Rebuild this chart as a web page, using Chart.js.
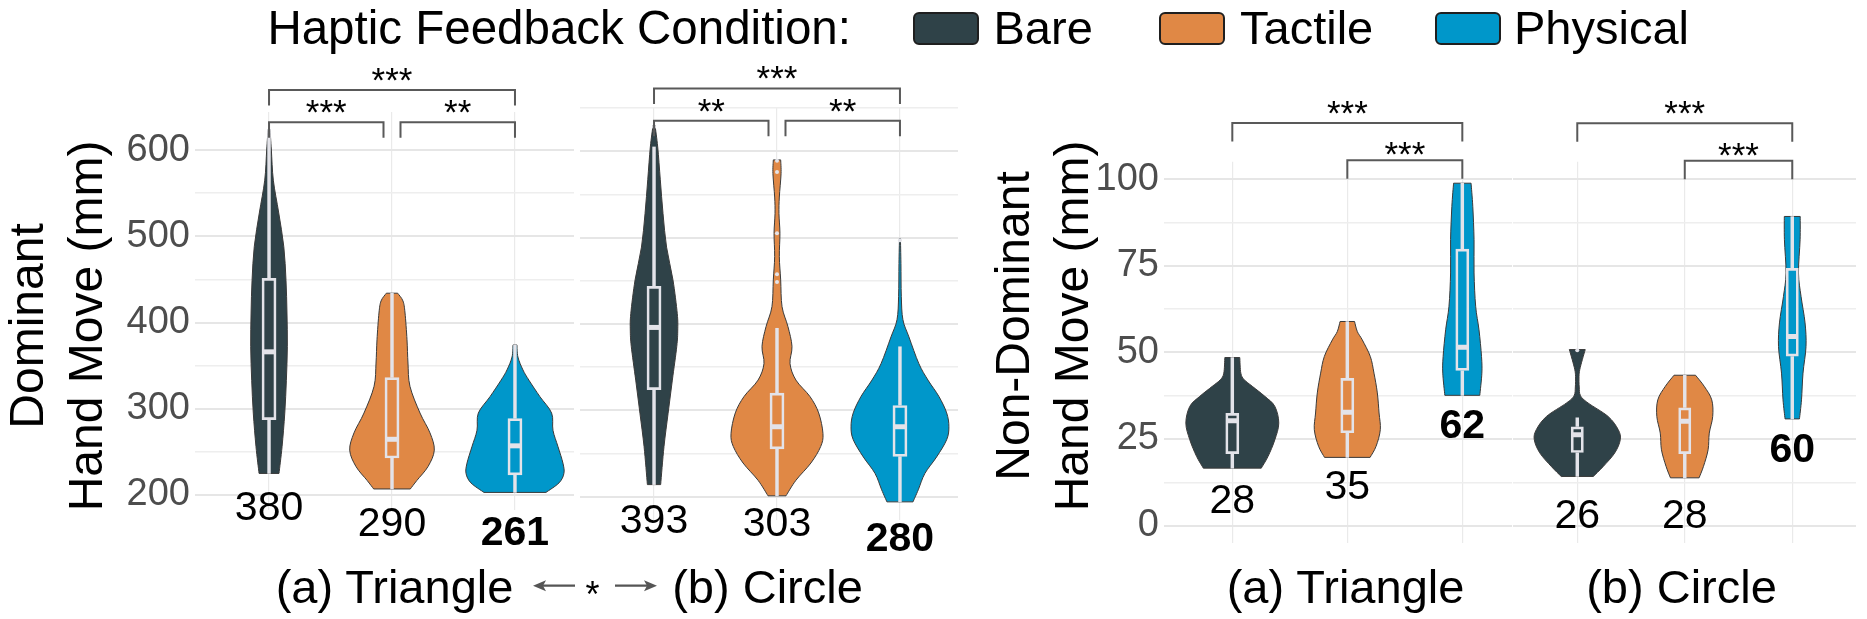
<!DOCTYPE html>
<html>
<head>
<meta charset="utf-8">
<script src="https://cdn.jsdelivr.net/npm/chart.js@4.4.0/dist/chart.umd.min.js"></script>
<style>
  html, body { margin: 0; padding: 0; background: #fff; }
  #page { position: relative; width: 1867px; height: 619px; overflow: hidden;
          font-family: 'Liberation Sans', Arial, sans-serif; color: #000; }
  #page canvas { position: absolute; left: 0; top: 0; }
  .txt { position: absolute; white-space: nowrap; line-height: 1; }
  .key { position: absolute; width: 66px; height: 33px; box-sizing: border-box;
         border: 2px solid #1f1f1f; border-radius: 6px; }
  .ytitle { position: absolute; width: 520px; height: 118px; font-size: 48px; line-height: 59px;
            text-align: center; white-space: nowrap; transform: translate(-50%, -50%) rotate(-90deg); }
</style>
</head>
<body>
<div id="page">
  <canvas id="domTri" width="1867" height="619"></canvas>
  <canvas id="domCirc" width="1867" height="619"></canvas>
  <canvas id="ndTri" width="1867" height="619"></canvas>
  <canvas id="ndCirc" width="1867" height="619"></canvas>
</div>
<script>
// ---- data -------------------------------------------------------------
const categories = ['Bare', 'Tactile', 'Physical'];
const shapes = ['(a) Triangle', '(b) Circle'];

const domGridTicks = [200, 250, 300, 350, 400, 450, 500, 550, 600, 650];
const domTickLabels = [200, 300, 400, 500, 600];
const ndGridTicks = [0, 12.5, 25, 37.5, 50, 62.5, 75, 87.5, 100];
const ndTickLabels = [0, 25, 50, 75, 100];

// violin outlines: [value, half width in category units]
const domTriViolins = [
  [[225, .081], [256, .106], [295, .128], [333, .141], [372, .149], [411, .146], [449, .138], [488, .120], [527, .079], [565, .035], [600, .019], [624, .008]],
  [[207, .149], [217, .203], [233, .293], [252, .344], [272, .309], [295, .228], [326, .146], [353, .130], [380, .122], [411, .106], [425, .089], [434, .046]],
  [[203, .252], [214, .358], [225, .398], [237, .390], [256, .350], [275, .309], [295, .298], [314, .203], [333, .114], [345, .065], [360, .024], [374, .016]]
];
const domTriQ1 = [287, 242.5, 223];
const domTriMedian = [366, 264.6, 257];
const domTriQ3 = [451.6, 336.4, 289];
const domTriLow = [225, 207, 203];
const domTriHigh = [624, 434, 374];
const domTriOutliers = [[], [], []];
const domTriMeans = [380, 290, 261];
const domTriLabelAt = [188.4, 169.9, 159.4];
const domTriTests = [[0, 2, '***', 669.6], [0, 1, '***', 632.1], [1, 2, '**', 632.1]];

const domCircViolins = [
  [[214, .054], [258, .081], [296, .114], [335, .149], [374, .185], [393, .193], [412, .189], [451, .154], [489, .102], [528, .073], [567, .051], [605, .030], [630, .008]],
  [[201, .073], [219, .154], [239, .276], [258, .355], [273, .374], [297, .339], [316, .268], [335, .154], [354, .106], [374, .122], [397, .089], [420, .041], [451, .030], [478, .019], [505, .024], [528, .016], [547, .019], [574, .033], [590, .030]],
  [[194, .106], [208, .149], [227, .203], [246, .298], [266, .380], [281, .398], [297, .380], [316, .317], [335, .228], [354, .154], [385, .073], [405, .024], [432, .011], [470, .008], [499, .004]]
];
const domCircQ1 = [323.5, 255, 246.3];
const domCircMedian = [396, 281, 281];
const domCircQ3 = [444, 320.4, 306];
const domCircLow = [214, 201, 194];
const domCircHigh = [605, 395, 373.6];
const domCircOutliers = [[628], [589, 576, 505, 457.6, 448.6], [497]];
const domCircMeans = [393, 303, 280];
const domCircLabelAt = [174.5, 171.9, 154.5];
const domCircTests = [[0, 2, '***', 672.7], [0, 1, '**', 635.2], [1, 2, '**', 635.2]];

const ndTriViolins = [
  [[16.6, .252], [20, .311], [24.8, .370], [29.6, .404], [34.4, .370], [37.3, .283], [40.2, .174], [42.1, .104], [44, .074], [48.5, .065]],
  [[19.7, .198], [22.9, .250], [27.7, .287], [32.5, .276], [38.3, .261], [44, .232], [48.8, .200], [53.6, .130], [56, .087], [58.9, .063]],
  [[37.6, .152], [44, .170], [48.8, .167], [56.5, .145], [63.3, .116], [72.9, .102], [82.5, .102], [92.1, .091], [98.8, .076]]
];
const ndTriQ1 = [20.7, 26.7, 44.7];
const ndTriMedian = [30.3, 32.7, 51.5];
const ndTriQ3 = [32.5, 42.6, 79.9];
const ndTriLow = [16.6, 19.7, 37.6];
const ndTriHigh = [48.5, 58.9, 98.8];
const ndTriOutliers = [[], [], []];
const ndTriMeans = [28, 35, 62];
const ndTriLabelAt = [7.8, 11.9, 29.5];
const ndTriTests = [[0, 2, '***', 116.2], [1, 2, '***', 105.4]];

const ndCircViolins = [
  [[14.2, .149], [17.1, .242], [21, .349], [24.8, .400], [27.7, .381], [31.5, .287], [35.4, .100], [37.5, .030], [40, .018], [43, .016], [45, .023], [47.9, .047], [50.8, .074]],
  [[13.8, .133], [17.1, .174], [21.9, .217], [26.7, .228], [31.5, .260], [36.3, .251], [40.2, .181], [43.4, .100]],
  [[30.8, .067], [36.3, .086], [44, .100], [51.7, .128], [58.5, .119], [66.1, .082], [72.9, .058], [82.5, .073], [89.2, .074]]
];
const ndCircQ1 = [21, 20.7, 48.8];
const ndCircMedian = [26.2, 30.1, 54.6];
const ndCircQ3 = [28.6, 34.1, 74.3];
const ndCircLow = [14.2, 13.8, 30.8];
const ndCircHigh = [31.1, 43.4, 89.2];
const ndCircOutliers = [[50.6], [], []];
const ndCircMeans = [26, 28, 60];
const ndCircLabelAt = [3.5, 3.5, 22.7];
const ndCircTests = [[0, 2, '***', 116.1], [1, 2, '***', 105.3]];

// ---- styles -----------------------------------------------------------
const COLORS = ['#2F4248', '#E08845', '#0097CA'];
const BOX = '#E3E3E9';
const OUTLINE = '#3A3A3A';
const BRACKET = '#595959';
const FONT = "'Liberation Sans', Arial, sans-serif";
const BOX_HALF = 0.06;

function smooth(ctx, p) {
  for (let i = 0; i < p.length - 1; i++) {
    const p0 = p[i - 1] || p[i], p1 = p[i], p2 = p[i + 1], p3 = p[i + 2] || p2;
    ctx.bezierCurveTo(p1.x + (p2.x - p0.x) / 6, p1.y + (p2.y - p0.y) / 6,
                      p2.x - (p3.x - p1.x) / 6, p2.y - (p3.y - p1.y) / 6, p2.x, p2.y);
  }
}

function drawViolin(ctx, xs, ys, cat, profile, fill) {
  const right = profile.map(([v, w]) => ({ x: xs.getPixelForValue(cat + w), y: ys.getPixelForValue(v) }));
  const left = profile.map(([v, w]) => ({ x: xs.getPixelForValue(cat - w), y: ys.getPixelForValue(v) })).reverse();
  ctx.beginPath();
  ctx.moveTo(right[0].x, right[0].y);
  smooth(ctx, right);
  ctx.lineTo(left[0].x, left[0].y);
  smooth(ctx, left);
  ctx.closePath();
  ctx.fillStyle = fill;
  ctx.fill();
  ctx.lineWidth = 1;
  ctx.strokeStyle = OUTLINE;
  ctx.stroke();
}

// thin gray arrow between the two dominant-hand facet labels
function drawArrow(ctx, from, to, y) {
  const dir = Math.sign(to - from);
  ctx.beginPath();
  ctx.moveTo(from, y);
  ctx.lineTo(to - dir * 8, y);
  ctx.strokeStyle = '#555';
  ctx.lineWidth = 2.2;
  ctx.stroke();
  ctx.beginPath();
  ctx.moveTo(to, y);
  ctx.lineTo(to - dir * 13, y - 5.5);
  ctx.lineTo(to - dir * 10, y);
  ctx.lineTo(to - dir * 13, y + 5.5);
  ctx.closePath();
  ctx.fillStyle = '#555';
  ctx.fill();
}

const arrowPlugin = {
  id: 'shapeArrow',
  afterDraw(chart) {
    const ctx = chart.ctx;
    ctx.save();
    drawArrow(ctx, 575, 533, 585.7);
    drawArrow(ctx, 615, 657, 585.7);
    ctx.restore();
  }
};

function facetPlugin(f) {
  return {
    id: 'facet',
    beforeDatasetsDraw(chart) {
      const { ctx, scales: { x, y } } = chart;
      ctx.save();
      f.violins.forEach((prof, i) => drawViolin(ctx, x, y, i, prof, COLORS[i]));
      ctx.restore();
    },
    afterDraw(chart) {
      const { ctx, scales: { x, y } } = chart;
      ctx.save();
      // mean labels
      ctx.textAlign = 'center';
      ctx.textBaseline = 'alphabetic';
      ctx.fillStyle = '#000';
      f.means.forEach((m, i) => {
        ctx.font = (i === 2 ? 'bold ' : '') + '41px ' + FONT;
        ctx.fillText(String(m), x.getPixelForValue(i), y.getPixelForValue(f.labelAt[i]) + 0.358 * 41);
      });
      // significance brackets
      f.tests.forEach(([a, b, label, yv]) => {
        const ly = y.getPixelForValue(yv);
        let xa = x.getPixelForValue(a), xb = x.getPixelForValue(b);
        f.tests.forEach(t => {
          if (t[3] !== yv || (t[0] === a && t[1] === b)) return;
          if (t[0] === a || t[1] === a) xa += 8.5;
          if (t[0] === b || t[1] === b) xb -= 8.5;
        });
        ctx.beginPath();
        ctx.moveTo(xa, ly + f.tip);
        ctx.lineTo(xa, ly);
        ctx.lineTo(xb, ly);
        ctx.lineTo(xb, ly + f.tip);
        ctx.strokeStyle = BRACKET;
        ctx.lineWidth = 2;
        ctx.stroke();
        ctx.font = '35px ' + FONT;
        ctx.fillStyle = '#000';
        const lift = (b - a === 1) ? f.starLiftNear : 2;
        ctx.fillText(label, (xa + xb) / 2, ly + lift);
      });
      ctx.restore();
    }
  };
}

function facetChart(id, f, extraPlugins) {
  const boxPx = (chart) => {
    const xs = chart.scales.x;
    return Math.abs(xs.getPixelForValue(BOX_HALF) - xs.getPixelForValue(0)) - 1;
  };
  const n = categories.length;
  const idx = [...Array(n).keys()];
  return new Chart(document.getElementById(id), {
    type: 'bar',
    data: {
      datasets: [
        {
          label: 'whiskers',
          data: idx.flatMap(i => [{ x: i, y: [f.low[i], f.q1[i]] }, { x: i, y: [f.q3[i], f.high[i]] }]),
          backgroundColor: BOX, borderWidth: 0, barThickness: 2.8, grouped: false
        },
        {
          label: 'boxes',
          data: idx.map(i => ({ x: i, y: [f.q1[i], f.q3[i]] })),
          backgroundColor: 'rgba(0,0,0,0)', borderColor: BOX, borderWidth: 2.7, borderSkipped: false,
          barPercentage: BOX_HALF * 2, categoryPercentage: 1, grouped: false
        },
        {
          type: 'scatter', label: 'median',
          data: idx.map(i => ({ x: i, y: f.median[i] })),
          pointStyle: 'line', pointRadius: ctx => boxPx(ctx.chart),
          pointBorderWidth: 5, pointBorderColor: BOX, pointBackgroundColor: BOX
        },
        {
          type: 'scatter', label: 'outliers',
          data: idx.flatMap(i => f.outliers[i].map(v => ({ x: i, y: v }))),
          pointRadius: 2, pointBorderWidth: 0, pointBackgroundColor: BOX
        }
      ]
    },
    options: {
      responsive: false,
      animation: false,
      devicePixelRatio: 1,
      events: [],
      layout: {
        padding: {
          left: f.area.left - (f.showTicks ? 70 : 0),
          right: 1867 - f.area.right,
          top: f.area.top,
          bottom: 619 - f.area.bottom
        }
      },
      plugins: { legend: { display: false }, tooltip: { enabled: false } },
      scales: {
        x: {
          type: 'linear', min: f.xMin, max: f.xMax, offset: false,
          ticks: { display: false },
          grid: { color: '#EAEAEA', lineWidth: 1.2, drawTicks: false, offset: false },
          border: { display: false },
          afterBuildTicks: s => { s.ticks = idx.map(i => ({ value: i })); },
          afterFit: s => { s.height = 0; }
        },
        y: {
          type: 'linear', min: f.yMin, max: f.yMax,
          ticks: {
            display: f.showTicks, autoSkip: false, padding: 5, color: '#4D4D4D',
            font: { family: FONT, size: 38 },
            callback: v => f.tickLabels.includes(v) ? String(v) : ''
          },
          grid: {
            drawTicks: false,
            color: c => f.tickLabels.includes(c.tick.value) ? '#E6E6E6' : '#EEEEEE',
            lineWidth: c => f.tickLabels.includes(c.tick.value) ? 2 : 1.5
          },
          border: { display: false },
          afterBuildTicks: s => {
            s.ticks = f.gridTicks.filter(v => v >= s.min - 0.01 && v <= s.max + 0.01).map(v => ({ value: v }));
          },
          afterFit: s => { s.width = f.showTicks ? 70 : 0; }
        }
      }
    },
    plugins: [facetPlugin(f)].concat(extraPlugins || [])
  });
}

facetChart('domTri', {
  violins: domTriViolins, q1: domTriQ1, median: domTriMedian, q3: domTriQ3, low: domTriLow, high: domTriHigh,
  outliers: domTriOutliers, means: domTriMeans, labelAt: domTriLabelAt, tests: domTriTests,
  gridTicks: domGridTicks, tickLabels: domTickLabels, showTicks: true,
  area: { left: 195, right: 574, top: 112, bottom: 510 }, xMin: -0.602, xMax: 2.48, yMin: 182.6, yMax: 644.1,
  tip: 15.5, starLiftNear: 2
}, [arrowPlugin]);
facetChart('domCirc', {
  violins: domCircViolins, q1: domCircQ1, median: domCircMedian, q3: domCircQ3, low: domCircLow, high: domCircHigh,
  outliers: domCircOutliers, means: domCircMeans, labelAt: domCircLabelAt, tests: domCircTests,
  gridTicks: domGridTicks, tickLabels: domTickLabels, showTicks: false,
  area: { left: 580, right: 958, top: 108, bottom: 520 }, xMin: -0.602, xMax: 2.472, yMin: 173.0, yMax: 650.1,
  tip: 15.5, starLiftNear: 2
});
facetChart('ndTri', {
  violins: ndTriViolins, q1: ndTriQ1, median: ndTriMedian, q3: ndTriQ3, low: ndTriLow, high: ndTriHigh,
  outliers: ndTriOutliers, means: ndTriMeans, labelAt: ndTriLabelAt, tests: ndTriTests,
  gridTicks: ndGridTicks, tickLabels: ndTickLabels, showTicks: true,
  area: { left: 1164, right: 1512, top: 161.7, bottom: 543 }, xMin: -0.594, xMax: 2.432, yMin: -5, yMax: 105,
  tip: 18.5, starLiftNear: 6
});
facetChart('ndCirc', {
  violins: ndCircViolins, q1: ndCircQ1, median: ndCircMedian, q3: ndCircQ3, low: ndCircLow, high: ndCircHigh,
  outliers: ndCircOutliers, means: ndCircMeans, labelAt: ndCircLabelAt, tests: ndCircTests,
  gridTicks: ndGridTicks, tickLabels: ndTickLabels, showTicks: false,
  area: { left: 1513, right: 1856, top: 161.7, bottom: 543 }, xMin: -0.598, xMax: 2.593, yMin: -5, yMax: 105,
  tip: 18.5, starLiftNear: 6
});

// ---- text: legend, axis titles, facet labels ---------------------------
const page = document.getElementById('page');

function addText(text, x, baseline, size, align, extra) {
  const d = document.createElement('div');
  d.className = 'txt';
  d.textContent = text;
  d.style.fontSize = size + 'px';
  d.style.top = (baseline - 0.8465 * size) + 'px';
  if (align === 'center') {
    d.style.left = (x - 300) + 'px';
    d.style.width = '600px';
    d.style.textAlign = 'center';
  } else {
    d.style.left = x + 'px';
  }
  Object.assign(d.style, extra || {});
  page.appendChild(d);
  return d;
}

addText('Haptic Feedback Condition:', 267.4, 44, 47.5);
const keyX = [913, 1159, 1434.6];
const keyTextX = [993.5, 1240, 1514];
categories.forEach((c, i) => {
  const k = document.createElement('div');
  k.className = 'key';
  k.style.left = keyX[i] + 'px';
  k.style.top = '11.7px';
  k.style.background = COLORS[i];
  page.appendChild(k);
  addText(c, keyTextX[i], 44, 47);
});

function addYTitle(lines, cx, cy) {
  const d = document.createElement('div');
  d.className = 'ytitle';
  d.innerHTML = lines.join('<br>');
  d.style.left = cx + 'px';
  d.style.top = cy + 'px';
  page.appendChild(d);
}
addYTitle(['Dominant', 'Hand Move (mm)'], 56, 326);
addYTitle(['Non-Dominant', 'Hand Move (mm)'], 1042, 326);

addText(shapes[0], 394.5, 602.7, 47, 'center');
addText(shapes[1], 767.5, 602.7, 47, 'center');
addText(shapes[0], 1345.5, 602.7, 47, 'center');
addText(shapes[1], 1681.5, 602.7, 47, 'center');
addText('*', 592.5, 607, 36, 'center');
</script>
</body>
</html>
